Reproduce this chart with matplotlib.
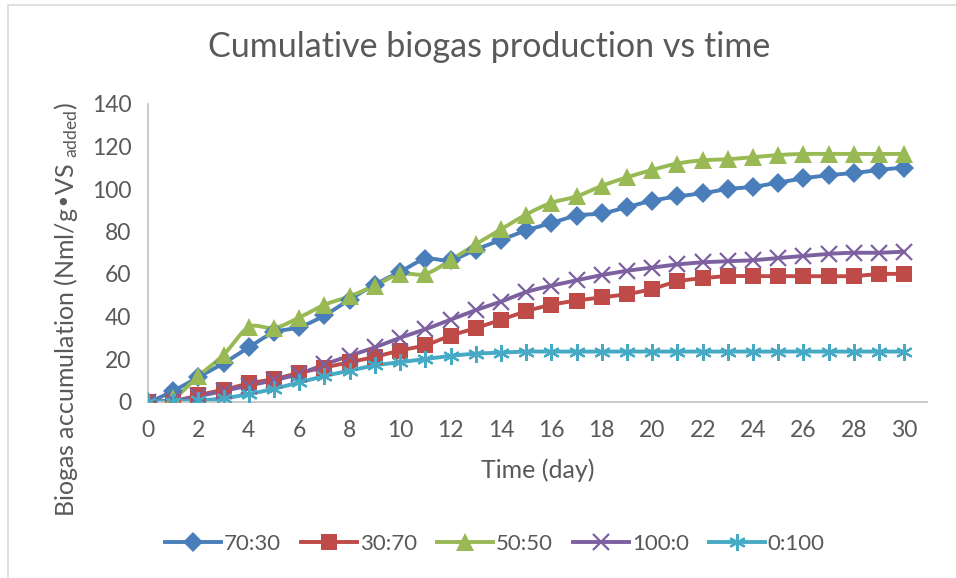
import numpy as np
import matplotlib
matplotlib.use("Agg")
import matplotlib.pyplot as plt
from matplotlib.patches import Rectangle

plt.rcParams['font.family'] = ['Lato', 'DejaVu Sans']
plt.rcParams['mathtext.default'] = 'regular'

days = list(range(31))
s_70_30 = [0, 5, 11.5, 18, 25.5, 32.5, 35, 40.5, 48, 55, 61, 67, 66.5, 71.5, 76,
           80.5, 84, 87.5, 88.5, 91.5, 94.5, 96.5, 98, 100, 101, 103, 105, 106.5,
           107.5, 109, 110]
s_30_70 = [0, 0, 3, 5.5, 8.5, 10.5, 13.5, 16, 18.5, 21, 24, 26.5, 31, 34.5, 38.5,
           42.5, 45.5, 47.5, 49, 50.5, 53, 56.5, 58, 59, 59, 59, 59, 59, 59, 60, 60]
s_50_50 = [0, 1.5, 12, 22, 35, 34.5, 39.5, 45.5, 49.5, 54.5, 60, 60, 66.5, 74, 81,
           88, 93.5, 96.5, 101.5, 105.5, 109, 112, 113.5, 114, 115, 116, 116.5,
           116.5, 116.5, 116.5, 116.5]
s_100_0 = [0, 0.5, 2.5, 5, 7.5, 10, 13, 17.5, 21.5, 25.5, 30, 34, 38.5, 43, 47,
           51.5, 54.5, 57, 59.5, 61.5, 63, 64.5, 65.5, 66, 66.5, 67.5, 68.5, 69.5,
           70, 70, 70.5]
s_0_100 = [0, 0, 0.5, 1.5, 3.5, 6, 9, 12, 14.5, 17, 18.5, 20, 21.5, 22.5, 23,
           23.5, 23.5, 23.5, 23.5, 23.5, 23.5, 23.5, 23.5, 23.5, 23.5, 23.5, 23.5,
           23.5, 23.5, 23.5, 23.5]
labels = ['70:30', '30:70', '50:50', '100:0', '0:100']

colors = ['#4a7ebb', '#be4b48', '#98b954', '#7d60a0', '#46aac5']
markers = ['D', 's', '^', 'x', (6, 2, 0)]
msizes = [10, 12, 12.5, 12, 12]

grey = '#595959'


def smooth(x, y, n=12):
    # Catmull-Rom style curve through the points, like Excel's smoothed line
    x = np.asarray(x, float)
    y = np.asarray(y, float)
    px = np.concatenate([[2 * x[0] - x[1]], x, [2 * x[-1] - x[-2]]])
    py = np.concatenate([[y[0]], y, [y[-1]]])
    xs, ys = [], []
    for i in range(1, len(px) - 2):
        t = np.linspace(0, 1, n, endpoint=False)
        for arr, out in ((px, xs), (py, ys)):
            p0, p1, p2, p3 = arr[i - 1], arr[i], arr[i + 1], arr[i + 2]
            out.extend(0.5 * ((2 * p1) + (-p0 + p2) * t
                              + (2 * p0 - 5 * p1 + 4 * p2 - p3) * t ** 2
                              + (-p0 + 3 * p1 - 3 * p2 + p3) * t ** 3))
    xs.append(x[-1])
    ys.append(y[-1])
    return xs, ys


fig = plt.figure(figsize=(9.56, 5.78), dpi=100)
ax = fig.add_axes([148 / 956, 1 - 401.5 / 578, (927 - 148) / 956, (401.5 - 104) / 578])

series = [s_70_30, s_30_70, s_50_50, s_100_0, s_0_100]
for vals, lab, c, m, ms in zip(series, labels, colors, markers, msizes):
    sx, sy = smooth(days, vals)
    ax.plot(sx, sy, color=c, lw=2.8, solid_capstyle='round', zorder=2)
    mew = 1.6 if m in ('x', (6, 2, 0)) else 0
    ax.plot(days, vals, ls='none', marker=m, ms=ms, color=c, mec=c, mew=mew,
            zorder=3)
    ax.plot([], [], color=c, lw=2.8, marker=m, ms=ms, mec=c, mew=mew, label=lab)

ax.set_xlim(0, 30.9)
ax.set_ylim(0, 140)
ax.set_xticks(range(0, 31, 2))
ax.set_yticks(range(0, 141, 20))
for side in ['top', 'right']:
    ax.spines[side].set_visible(False)
for side in ['left', 'bottom']:
    ax.spines[side].set_color('#c0c0c0')
    ax.spines[side].set_linewidth(1.2)
ax.tick_params(length=0, labelsize=16.5, colors=grey)
ax.tick_params(axis='x', pad=13)
ax.tick_params(axis='y', pad=12)

fig.text(538 / 956, 1 - 470 / 578, 'Time (day)', fontsize=18, color=grey,
         ha='center', va='center')
fig.text(66 / 956, 1 - 310 / 578, 'Biogas accumulation (Nml/g\u2022VS$_{\ added}$)',
         fontsize=18, color=grey, ha='center', va='center', rotation=90)
fig.text(489 / 956, 1 - 47 / 578, 'Cumulative biogas production vs time',
         fontsize=24.5, color=grey, ha='center', va='center')

leg = fig.legend(loc='center', bbox_to_anchor=(495 / 956, 1 - 544 / 578), ncol=5,
                 frameon=False, fontsize=16, handlelength=2.5,
                 columnspacing=0.9, handletextpad=0.15)
for t in leg.get_texts():
    t.set_color(grey)

fig.patches.append(Rectangle((8 / 956, -0.1), 1.2, 1 - 5 / 578 + 0.1,
                             transform=fig.transFigure, fill=False,
                             edgecolor='#d9d9d9', lw=1.2))

fig.savefig('out.png', dpi=100)
